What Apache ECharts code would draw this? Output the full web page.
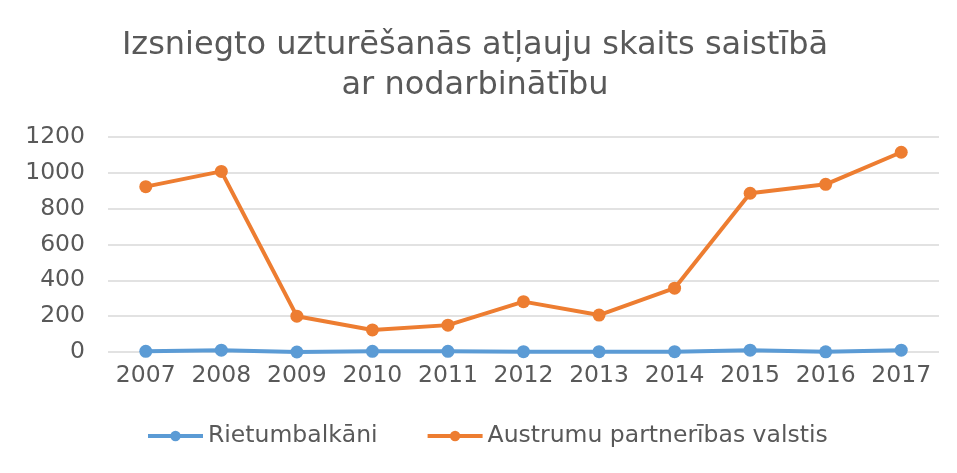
<!DOCTYPE html>
<html>
<head>
<meta charset="utf-8">
<script src="https://cdn.jsdelivr.net/npm/echarts@6/dist/echarts.min.js"></script>
<style>
html,body{margin:0;padding:0;background:#fff;}
#c{width:957px;height:473px;}
</style>
</head>
<body>
<div id="c"></div>
<script>
const titleText = 'Izsniegto uzturēšanās atļauju skaits saistībā\nar nodarbinātību';
const categories = ['2007','2008','2009','2010','2011','2012','2013','2014','2015','2016','2017'];
const seriesNames = ['Rietumbalkāni', 'Austrumu partnerības valstis'];
const rietumbalkani = [4, 10, 0, 4, 4, 2, 2, 2, 10, 1, 10];
const austrumu = [923, 1008, 200, 123, 150, 281, 206, 356, 886, 936, 1115];
const yTicks = {min: 0, max: 1200, interval: 200};

const chart = echarts.init(document.getElementById('c'));
const font = '"DejaVu Sans", Verdana, sans-serif';
chart.setOption({
  animation: false,
  backgroundColor: '#fff',
  title: {
    text: titleText,
    left: 470,
    top: 21,
    textAlign: 'center',
    textStyle: {fontFamily: font, fontSize: 32, fontWeight: 'normal', color: '#595959', lineHeight: 40}
  },
  legend: {
    bottom: 20,
    left: 141,
    itemWidth: 55,
    itemHeight: 13,
    itemGap: 48,
    textStyle: {fontFamily: font, fontSize: 23.5, color: '#595959'},
    lineStyle: {width: 4},
    data: seriesNames
  },
  grid: {left: 108, right: 18, top: 137, bottom: 121},
  xAxis: {
    type: 'category',
    data: categories,
    boundaryGap: true,
    axisLine: {show: false},
    axisTick: {show: false},
    axisLabel: {fontFamily: font, fontSize: 23.5, color: '#595959', margin: 12, interval: 0}
  },
  yAxis: {
    type: 'value',
    min: yTicks.min, max: yTicks.max, interval: yTicks.interval,
    axisLine: {show: false},
    axisTick: {show: false},
    axisLabel: {fontFamily: font, fontSize: 23.5, color: '#595959', margin: 23, formatter: v => String(v)},
    splitLine: {lineStyle: {color: '#d9d9d9', width: 1.5}}
  },
  series: [
    {
      name: seriesNames[0], type: 'line', data: rietumbalkani,
      color: '#5B9BD5', symbol: 'circle', symbolSize: 13,
      lineStyle: {width: 4}, clip: false
    },
    {
      name: seriesNames[1], type: 'line', data: austrumu,
      color: '#ED7D31', symbol: 'circle', symbolSize: 13,
      lineStyle: {width: 4}, clip: false
    }
  ]
});
</script>
</body>
</html>
